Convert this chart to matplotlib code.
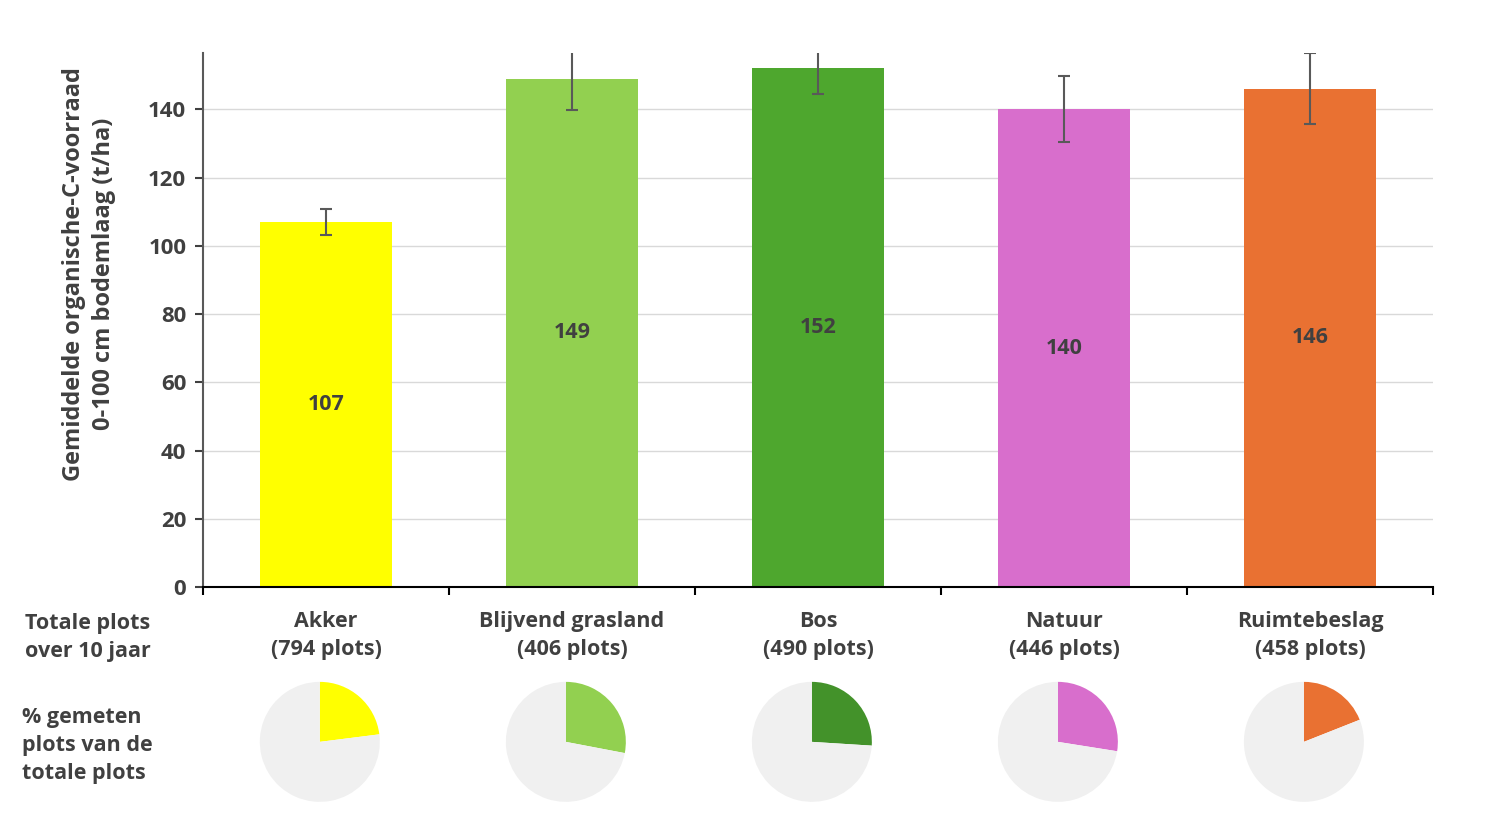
import numpy as np
import matplotlib
matplotlib.use("Agg")
import matplotlib.pyplot as plt

plt.rcParams['font.family'] = ['Open Sans', 'DejaVu Sans']

# data
categories = ["Akker", "Blijvend grasland", "Bos", "Natuur", "Ruimtebeslag"]
n_plots = [794, 406, 490, 446, 458]
mean_c = [107, 149, 152, 140, 146]
err_c = [3.7, 9.3, 7.4, 9.7, 10.4]
pct_measured = [23, 28, 26, 27.5, 19]
bar_colors = ["#FFFF00", "#92D050", "#4EA72E", "#D86ECC", "#E97132"]
pie_colors = ["#FFFF00", "#92D050", "#43922A", "#D86ECC", "#E97132"]

txt = "#404040"
fig = plt.figure(figsize=(14.99, 8.35), dpi=100)
ax = fig.add_axes([0.1354, 0.297, 0.8206, 0.6395])

x = np.arange(len(categories))
ax.bar(x, mean_c, width=0.54, color=bar_colors, zorder=2)
ax.errorbar(x, mean_c, yerr=err_c, fmt='none', ecolor='#595959', elinewidth=1.5,
            capsize=4, capthick=1.5, zorder=3, clip_on=True)
for xi, v in zip(x, mean_c):
    ax.text(xi, v / 2, str(v), ha='center', va='center', fontsize=15.5,
            fontweight='bold', color=txt)

ax.set_xlim(-0.5, len(categories) - 0.5)
ax.set_ylim(0, 156.5)
ax.set_yticks(range(0, 141, 20))
ax.yaxis.grid(True, color='#D9D9D9', lw=1)
ax.set_axisbelow(True)
for s in ['top', 'right']:
    ax.spines[s].set_visible(False)
ax.spines['left'].set_color('#595959')
ax.spines['left'].set_linewidth(1.5)
ax.spines['bottom'].set_color('#000000')
ax.spines['bottom'].set_linewidth(1.5)
ax.tick_params(axis='y', labelsize=16, colors=txt, length=6, width=1.5, pad=6)
for lab in ax.get_yticklabels():
    lab.set_fontweight('bold')
ax.set_xticks(np.arange(-0.5, len(categories)), minor=False)
ax.set_xticklabels([])
ax.tick_params(axis='x', length=6, width=1.5, color='#000000', direction='out')
for xi, c, n in zip(x, categories, n_plots):
    ax.text(xi, -0.045, f"{c}\n({n} plots)", transform=ax.get_xaxis_transform(),
            ha='center', va='top', fontsize=15.5, fontweight='bold', color=txt,
            linespacing=1.45)

ax.set_ylabel("Gemiddelde organische-C-voorraad\n0-100 cm bodemlaag (t/ha)",
              fontsize=17, fontweight='bold', color=txt, linespacing=1.3)
ax.yaxis.set_label_coords(-0.071, 0.586)

fig.text(0.017, 0.237, "Totale plots\nover 10 jaar", ha='left', va='center',
         fontsize=15.5, fontweight='bold', color=txt, linespacing=1.45)
fig.text(0.015, 0.107, "% gemeten\nplots van de\ntotale plots", ha='left', va='center',
         fontsize=15.5, fontweight='bold', color=txt, linespacing=1.45)

# pies under each category
pw = 0.49
ph = 120 / 534
for xi, p, col in zip(x, pct_measured, pie_colors):
    pax = ax.inset_axes([xi - 0.025 - pw / 2, -0.29 - ph / 2, pw, ph],
                        transform=ax.get_xaxis_transform())
    pax.pie([p, 100 - p], colors=[col, '#F0F0F0'], startangle=90,
            counterclock=False)
    pax.set_xlim(-1, 1)
    pax.set_ylim(-1, 1)
    pax.set_aspect('equal')
    pax.axis('off')

fig.savefig("out.png", dpi=100)
